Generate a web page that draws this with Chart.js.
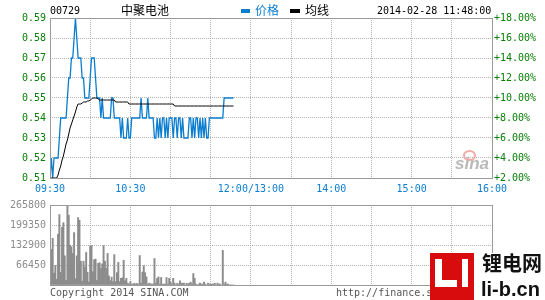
<!DOCTYPE html>
<html><head><meta charset="utf-8">
<script src="https://cdn.jsdelivr.net/npm/chart.js@4/dist/chart.umd.min.js"></script>
<style>
html,body{margin:0;padding:0;background:#fff;}
#wrap{position:relative;width:545px;height:300px;overflow:hidden;background:#fff;}
.box{position:absolute;left:0;}
.t{position:absolute;white-space:nowrap;font-family:"DejaVu Sans Mono",monospace;font-size:10px;line-height:12px;}
.cjk{position:absolute;white-space:nowrap;font-family:"Noto Sans CJK SC",sans-serif;font-size:12px;line-height:14px;}
</style></head><body>
<div id="wrap">
  <div class="box" style="top:0;width:545px;height:196px"><canvas id="c1" width="545" height="196"></canvas></div>
  <div class="box" style="top:195px;width:545px;height:105px"><canvas id="c2" width="545" height="105"></canvas></div>

  <div class="t" style="left:50px;top:5px;color:#000">00729</div>
  <div class="cjk" style="left:121px;top:3px;color:#000">中聚电池</div>
  <div style="position:absolute;left:241px;top:9px;width:9px;height:4px;background:#0b7dcf"></div>
  <div class="cjk" style="left:255px;top:3px;color:#0b7dcf">价格</div>
  <div style="position:absolute;left:290px;top:9px;width:10px;height:4px;background:#000"></div>
  <div class="cjk" style="left:305px;top:3px;color:#000">均线</div>
  <div class="t" style="left:377px;top:5px;color:#000">2014-02-28 11:48:00</div>

  <div style="position:absolute;left:463px;top:150px;width:9px;height:7px;border:2px solid #f4a8a8;border-radius:50%;"></div>
  <div style="position:absolute;left:455px;top:155px;font-family:'Liberation Sans',sans-serif;font-style:italic;font-weight:bold;font-size:17px;line-height:18px;color:#b8b8b8;white-space:nowrap;">sina</div>

  <div class="t" style="left:50px;top:287px;color:#555">Copyright 2014 SINA.COM</div>
  <div class="t" style="left:336px;top:287px;color:#555">http://finance.sina.com.cn</div>

  <div style="position:absolute;left:430px;top:253px;width:44px;height:47px;background:#d80c0c"></div>
  <div style="position:absolute;left:435px;top:259px;width:7px;height:28px;background:#fff"></div>
  <div style="position:absolute;left:435px;top:280px;width:22px;height:7px;background:#fff"></div>
  <div style="position:absolute;left:462px;top:259px;width:6px;height:28px;background:#fff"></div>
  <div style="position:absolute;left:474px;top:253px;width:71px;height:47px;background:#fff"></div>
  <div style="position:absolute;left:482px;top:250px;font-family:'Noto Sans CJK SC',sans-serif;font-weight:bold;font-size:20px;line-height:26px;color:#111;white-space:nowrap;">锂电网</div>
  <div style="position:absolute;left:481px;top:278px;font-family:'Liberation Sans',sans-serif;font-weight:bold;font-size:20px;line-height:22px;color:#111;white-space:nowrap;">li-b.cn</div>
</div>
<script>
// ---- data ----
const gridMinutes = [0,30,60,90,120,150,180,210,240,270,300,330];
const labelMinutes = [0,60,150,210,270,330];
const timeLabels = ["09:30","10:30","12:00/13:00","14:00","15:00","16:00"];
const priceTicks = [0.51,0.52,0.53,0.54,0.55,0.56,0.57,0.58,0.59];
const priceLabels = ["0.51","0.52","0.53","0.54","0.55","0.56","0.57","0.58","0.59"];
const pctLabels = ["+2.00%","+4.00%","+6.00%","+8.00%","+10.00%","+12.00%","+14.00%","+16.00%","+18.00%"];
const volTicks = [0,66450,132900,199350,265800];
const volLabels = ["","66450","132900","199350","265800"];

const price = [
0.51,0.52,0.51,0.52,0.52,0.52,0.52,0.53,0.54,0.54,
0.54,0.54,0.54,0.55,0.56,0.56,0.57,0.57,0.58,0.59,
0.58,0.57,0.57,0.57,0.56,0.56,0.55,0.55,0.55,0.55,
0.56,0.57,0.57,0.57,0.56,0.55,0.55,0.55,0.54,0.55,
0.54,0.54,0.54,0.54,0.54,0.54,0.55,0.55,0.54,0.54,
0.54,0.54,0.54,0.53,0.54,0.53,0.53,0.53,0.54,0.53,
0.53,0.54,0.54,0.54,0.54,0.54,0.54,0.54,0.55,0.54,
0.54,0.54,0.54,0.55,0.54,0.54,0.54,0.54,0.53,0.53,
0.54,0.53,0.54,0.53,0.54,0.54,0.53,0.54,0.53,0.54,
0.54,0.54,0.53,0.54,0.54,0.53,0.54,0.54,0.53,0.54,
0.53,0.53,0.53,0.53,0.54,0.54,0.53,0.54,0.53,0.54,
0.54,0.53,0.54,0.53,0.54,0.53,0.54,0.53,0.53,0.54,
0.54,0.54,0.54,0.54,0.54,0.54,0.54,0.54,0.54,0.54,
0.55,0.55,0.55,0.55,0.55,0.55,0.55,0.55
];
const avgPrice = [
0.51,0.51,0.51,0.51,0.51,0.51,0.5115,0.514,0.516,0.519,
0.521,0.524,0.527,0.529,0.532,0.535,0.537,0.539,0.541,0.543,
0.5455,0.547,0.547,0.547,0.5475,0.548,0.548,0.548,0.5485,0.5485,
0.549,0.5495,0.55,0.55,0.55,0.55,0.5495,0.549,0.549,0.549,
0.549,0.549,0.549,0.549,0.549,0.549,0.549,0.549,0.549,0.548,
0.548,0.548,0.548,0.548,0.548,0.548,0.548,0.548,0.548,0.547,
0.547,0.547,0.547,0.547,0.547,0.547,0.547,0.547,0.547,0.547,
0.547,0.547,0.547,0.547,0.547,0.547,0.547,0.547,0.547,0.547,
0.547,0.547,0.547,0.547,0.547,0.547,0.547,0.547,0.547,0.547,
0.547,0.547,0.547,0.546,0.546,0.546,0.546,0.546,0.546,0.546,
0.546,0.546,0.546,0.546,0.546,0.546,0.546,0.546,0.546,0.546,
0.546,0.546,0.546,0.546,0.546,0.546,0.546,0.546,0.546,0.546,
0.546,0.546,0.546,0.546,0.546,0.546,0.546,0.546,0.546,0.546,
0.546,0.546,0.546,0.546,0.546,0.546,0.546,0.546
];
const volume = [
0,118000,155000,40000,65000,19000,169000,234000,42000,192000,
207000,97000,15000,264000,232000,132000,127000,105000,174000,21000,
97000,224000,215000,79000,12000,79000,59000,108000,42000,10000,
130000,131000,44000,84000,86000,15000,72000,74000,55000,70000,
131000,79000,55000,105000,30000,14000,26000,11000,101000,11000,
41000,75000,11000,22000,24000,82000,14000,22000,6000,3000,
11000,3000,3000,6000,3000,5000,3000,98000,6000,43000,
64000,41000,27000,3000,6000,4000,3000,3000,88000,6000,
22000,27000,3000,25000,3000,3000,3000,25000,3000,22000,
9500,3000,22000,6000,0,6000,3000,14000,6000,6000,
6000,0,6000,3000,6000,9500,3000,38000,22000,3000,
0,3000,6000,3000,3000,9500,3000,0,6000,3000,
3000,3000,3000,6000,0,6000,3000,3000,0,115000,
3000,9500,3000,3000,0,0,0,0
];

// ---- chart helpers ----
const MONO = {family:"'DejaVu Sans Mono', monospace", size:10};
const BLUE = '#0b7dcf';
const GRID = '#b4b4b4';
const frame = {
  id:'frame',
  afterDraw(chart){
    const {ctx, chartArea:a} = chart;
    ctx.save();
    ctx.strokeStyle = '#9a9a9a';
    ctx.lineWidth = 1;
    ctx.setLineDash([]);
    ctx.strokeRect(Math.round(a.left)+0.5, Math.round(a.top)+0.5, Math.round(a.right-a.left), Math.round(a.bottom-a.top));
    ctx.restore();
  }
};
const setTicks = vals => s => { s.ticks = vals.map(v => ({value:v})); };

new Chart(document.getElementById('c1'), {
  type:'line',
  data:{datasets:[
    {label:'价格', data: price.map((v,i)=>({x:i,y:v})), borderColor:BLUE, borderWidth:1.3, pointRadius:0, tension:0, fill:false, order:2},
    {label:'均线', data: avgPrice.map((v,i)=>({x:i,y:v})), borderColor:'#000', borderWidth:1, pointRadius:0, tension:0, fill:false, order:1}
  ]},
  options:{
    responsive:false, animation:false, devicePixelRatio:1,
    layout:{padding:{top:18,left:0,right:0,bottom:0}},
    plugins:{legend:{display:false}, tooltip:{enabled:false}},
    scales:{
      x:{type:'linear', min:0, max:330, afterBuildTicks:setTicks(gridMinutes),
         afterFit:s=>{s.height=18;},
         ticks:{autoSkip:false, maxRotation:0, color:BLUE, font:MONO, padding:5,
           callback:v=>{const i=labelMinutes.indexOf(v); return i>=0?timeLabels[i]:'';}},
         grid:{color:GRID, drawTicks:false, lineWidth:1},
         border:{display:false, dash:[1,1]}},
      y:{position:'left', min:0.51, max:0.59, afterBuildTicks:setTicks(priceTicks),
         afterFit:s=>{s.width=50;},
         ticks:{color:'#0a800a', font:MONO, padding:4,
           callback:(v,i)=>priceLabels[i]},
         grid:{color:GRID, drawTicks:false, lineWidth:1},
         border:{display:false, dash:[1,1]}},
      y2:{position:'right', min:0.51, max:0.59, afterBuildTicks:setTicks(priceTicks),
         afterFit:s=>{s.width=53;},
         ticks:{color:'#0a800a', font:MONO, padding:2,
           callback:(v,i)=>pctLabels[i]},
         grid:{drawOnChartArea:false, drawTicks:false},
         border:{display:false}}
    }
  },
  plugins:[frame]
});

new Chart(document.getElementById('c2'), {
  type:'bar',
  data:{datasets:[
    {label:'成交量', data: volume.map((v,i)=>({x:i,y:v})), backgroundColor:'#8c8c8c', borderWidth:0, barThickness:1.3}
  ]},
  options:{
    responsive:false, animation:false, devicePixelRatio:1,
    layout:{padding:{top:6,left:0,right:53,bottom:0}},
    plugins:{legend:{display:false}, tooltip:{enabled:false}},
    scales:{
      x:{type:'linear', min:0, max:330, offset:false, afterBuildTicks:setTicks(gridMinutes),
         afterFit:s=>{s.height=15;},
         ticks:{display:false},
         grid:{color:GRID, drawTicks:false, lineWidth:1, offset:false},
         border:{display:false, dash:[1,1]}},
      y:{position:'left', min:0, max:265800, afterBuildTicks:setTicks(volTicks),
         afterFit:s=>{s.width=50;},
         ticks:{color:'#8c8c8c', font:MONO, padding:4,
           callback:(v,i)=>volLabels[i]},
         grid:{color:GRID, drawTicks:false, lineWidth:1},
         border:{display:false, dash:[1,1]}}
    }
  },
  plugins:[frame]
});
</script>
</body></html>
